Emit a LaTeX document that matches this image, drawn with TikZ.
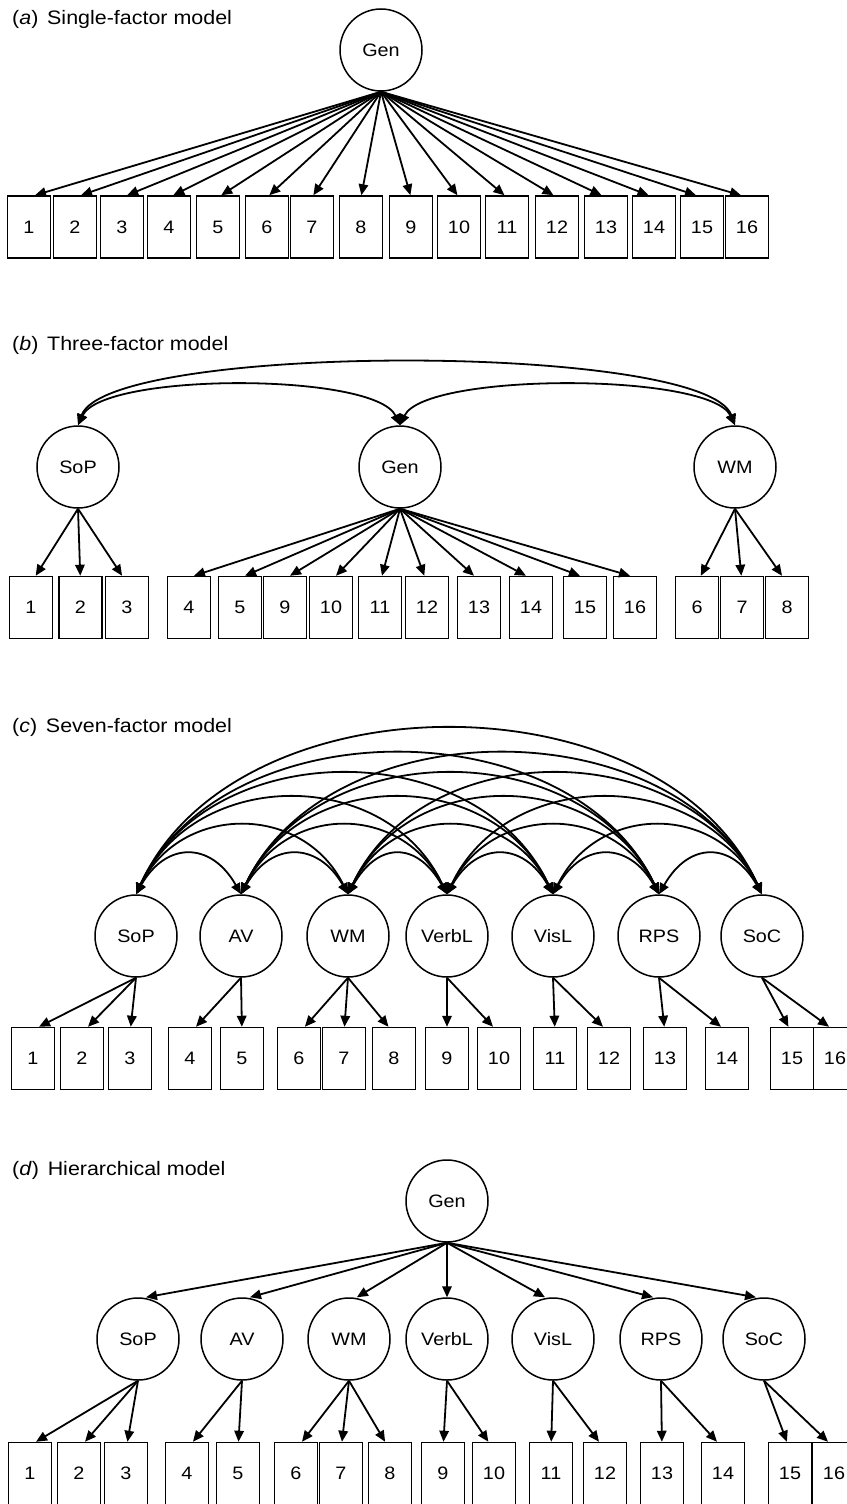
\documentclass[tikz,border=0pt]{standalone}
\usepackage{fontspec}
\setmainfont{Liberation Sans}[FakeStretch=1.1]
\usetikzlibrary{arrows.meta}
\tikzset{
  lat/.style={circle,draw,line width=1.5pt,minimum size=82pt,inner sep=0pt,font=\fontsize{18}{21}\selectfont},
  obs/.style={rectangle,draw,line width=1.5pt,minimum width=43pt,minimum height=62pt,inner sep=0pt,font=\fontsize{18}{21}\selectfont},
  arr/.style={line width=1.8pt,-{Triangle[length=11pt,width=9.5pt]}},
  cov/.style={line width=1.8pt,{Triangle[length=11pt,width=9.5pt]}-{Triangle[length=11pt,width=9.5pt]}},
  ttl/.style={anchor=base west,inner sep=0pt,font=\fontsize{19.5}{22}\selectfont},
}
\begin{document}
\begin{tikzpicture}[x=1pt,y=-1pt]
\useasboundingbox (0,0) rectangle (846,1504);
% ---------------- (a)
\node[ttl] (ta) at (12,25) {(\textit{a})\hspace{0.45em}Single-factor model};
\node[lat] (ga) at (381,50) {Gen};
\foreach \n/\x in {1/29,2/75,3/122,4/169,5/218,6/267,7/312,8/361,9/411,10/459,11/507,12/557,13/606,14/654,15/702,16/747}{
  \node[obs] (a\n) at (\x,227) {\n};
  \pgfmathsetmacro\dx{max(-6,min(6,0.02*(381-\x)))}
  \draw[arr] (ga.south) -- ([xshift=\dx pt]a\n.north);
}
% ---------------- (b)
\node[ttl] (tb) at (12,350) {(\textit{b})\hspace{0.45em}Three-factor model};
\node[lat] (bs) at (78,467) {SoP};
\node[lat] (bg) at (400,467) {Gen};
\node[lat] (bw) at (735,467) {WM};
\draw[cov] (bs.north) .. controls +(25,-53) and +(-25,-53) .. (bg.north);
\draw[cov] (bs.north) .. controls +(30,-83) and +(-30,-83) .. (bw.north);
\draw[cov] (bg.north) .. controls +(25,-53) and +(-25,-53) .. (bw.north);
\foreach \n/\x/\s/\sx in {1/31/bs/78,2/80.5/bs/78,3/127/bs/78,4/189/bg/400,5/240/bg/400,9/285/bg/400,10/331/bg/400,11/380/bg/400,12/427/bg/400,13/479/bg/400,14/531/bg/400,15/585/bg/400,16/635/bg/400,6/697/bw/735,7/742/bw/735,8/787/bw/735}{
  \node[obs] (b\n) at (\x,607.5) {\n};
  \pgfmathsetmacro\dx{max(-5,min(5,0.1*(\sx-\x)))}
  \draw[arr] (\s.south) -- ([xshift=\dx pt]b\n.north);
}
% ---------------- (c)
\node[ttl] (tc) at (12,732) {(\textit{c})\hspace{0.45em}Seven-factor model};
\foreach \i/\l/\x in {1/SoP/136,2/AV/241,3/WM/348,4/VerbL/447,5/VisL/553,6/RPS/659,7/SoC/762}{
  \node[lat] (cf\i) at (\x,936) {\l};
}
\foreach \i in {1,...,6}{
  \pgfmathtruncatemacro\ii{\i+1}
  \foreach \j in {\ii,...,7}{
    \pgfmathtruncatemacro\kk{\j-\i-1}
    \pgfmathsetmacro\hh{{53,91,128,160,187,220}[\kk]}
    \pgfmathsetmacro\cc{{30,45,60,75,88,100}[\kk]}
    \draw[cov] (cf\i.north) .. controls +(\cc,-\hh) and +(-\cc,-\hh) .. (cf\j.north);
  }
}
\foreach \n/\x/\s/\sx in {1/33/cf1/136,2/82/cf1/136,3/130/cf1/136,4/190/cf2/241,5/242/cf2/241,6/299/cf3/348,7/344/cf3/348,8/394/cf3/348,9/447/cf4/447,10/499/cf4/447,11/555/cf5/553,12/609/cf5/553,13/665/cf6/659,14/727/cf6/659,15/792/cf7/762,16/835/cf7/762}{
  \node[obs] (c\n) at (\x,1058.5) {\n};
  \pgfmathsetmacro\dx{max(-6,min(6,0.12*(\sx-\x)))}
  \draw[arr] (\s.south) -- ([xshift=\dx pt]c\n.north);
}
% ---------------- (d)
\node[ttl] (td) at (12,1175) {(\textit{d})\hspace{0.45em}Hierarchical model};
\node[lat] (dg) at (447,1201) {Gen};
\foreach \i/\l/\x in {1/SoP/138,2/AV/242,3/WM/349,4/VerbL/447,5/VisL/553,6/RPS/661,7/SoC/764}{
  \node[lat] (df\i) at (\x,1339) {\l};
  \pgfmathsetmacro\dx{max(-8,min(8,0.08*(447-\x)))}
  \draw[arr] (dg.south) -- ([xshift=\dx pt]df\i.north);
}
\foreach \n/\x/\s/\sx in {1/30/df1/138,2/79/df1/138,3/126/df1/138,4/187/df2/242,5/238/df2/242,6/296/df3/349,7/341/df3/349,8/390/df3/349,9/443/df4/447,10/494/df4/447,11/551/df5/553,12/605/df5/553,13/662/df6/661,14/723/df6/661,15/790/df7/764,16/834/df7/764}{
  \node[obs] (d\n) at (\x,1473.5) {\n};
  \pgfmathsetmacro\dx{max(-6,min(6,0.12*(\sx-\x)))}
  \draw[arr] (\s.south) -- ([xshift=\dx pt]d\n.north);
}
\end{tikzpicture}
\end{document}
